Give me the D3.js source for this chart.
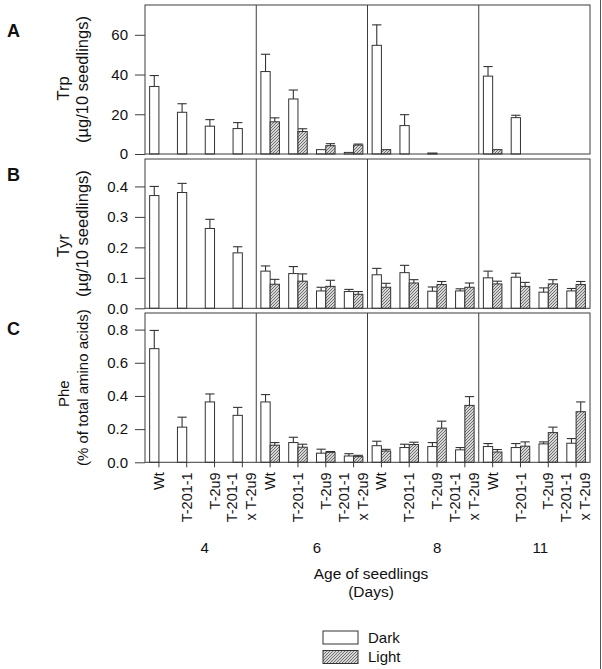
<!DOCTYPE html>
<html>
<head>
<meta charset="utf-8">
<script src="https://cdn.jsdelivr.net/npm/d3@7"></script>
<style>
  html, body { margin: 0; padding: 0; background: #fff; }
  svg { display: block; font-family: "Liberation Sans", Arial, sans-serif; }
</style>
</head>
<body>
<svg id="chart" width="602" height="669"></svg>
<script>
// ---------- DATA ----------
const days = ["4", "6", "8", "11"];
const genotypes = ["Wt", "T-201-1", "T-2u9", "T-201-1 x T-2u9"];
const genotypeLines = [["Wt"], ["T-201-1"], ["T-2u9"], ["T-201-1", "x T-2u9"]];
const seriesNames = ["Dark", "Light"];

// Trp (µg/10 seedlings), rows = days, cols = genotypes
const trpDark     = [[34, 21, 14, 12.8], [41.5, 27.7, 2.2, 0.8], [54.7, 14.3, 0.5, 0], [39.2, 18.3, 0, 0]];
const trpDarkErr  = [[5.5, 4.3, 3.3, 3], [8.7, 4.5, 0, 0], [10.3, 5.5, 0, 0], [4.8, 1.2, 0, 0]];
const trpLight    = [[null, null, null, null], [16.2, 11.3, 4.2, 4.5], [2.2, 0, 0, 0], [2.2, 0, 0, 0]];
const trpLightErr = [[null, null, null, null], [2, 1.4, 1, 0.5], [0, 0, 0, 0], [0, 0, 0, 0]];
const trpTicks = [0, 20, 40, 60];

// Tyr (µg/10 seedlings)
const tyrDark     = [[0.37, 0.38, 0.262, 0.182], [0.122, 0.114, 0.057, 0.055], [0.11, 0.117, 0.056, 0.057], [0.1, 0.102, 0.053, 0.057]];
const tyrDarkErr  = [[0.03, 0.03, 0.03, 0.02], [0.017, 0.023, 0.012, 0.007], [0.021, 0.024, 0.014, 0.007], [0.022, 0.013, 0.014, 0.008]];
const tyrLight    = [[null, null, null, null], [0.079, 0.089, 0.072, 0.046], [0.069, 0.083, 0.078, 0.069], [0.08, 0.072, 0.08, 0.078]];
const tyrLightErr = [[null, null, null, null], [0.016, 0.024, 0.02, 0.009], [0.013, 0.011, 0.01, 0.014], [0.009, 0.013, 0.014, 0.01]];
const tyrTicks = [0, 0.1, 0.2, 0.3, 0.4];

// Phe (% of total amino acids)
const pheDark     = [[0.685, 0.212, 0.364, 0.283], [0.364, 0.119, 0.055, 0.038], [0.1, 0.089, 0.095, 0.075], [0.095, 0.089, 0.111, 0.115]];
const pheDarkErr  = [[0.11, 0.06, 0.048, 0.048], [0.044, 0.032, 0.024, 0.014], [0.027, 0.02, 0.024, 0.014], [0.018, 0.024, 0.012, 0.028]];
const pheLight    = [[null, null, null, null], [0.103, 0.091, 0.06, 0.034], [0.068, 0.107, 0.206, 0.343], [0.062, 0.097, 0.179, 0.305]];
const pheLightErr = [[null, null, null, null], [0.016, 0.018, 0.005, 0.008], [0.01, 0.014, 0.042, 0.053], [0.015, 0.026, 0.033, 0.059]];
const pheTicks = [0, 0.2, 0.4, 0.6, 0.8];

// ---------- LAYOUT ----------
const svg = d3.select("#chart");
const LEFT = 145, RIGHT = 590;
const INK = "#333";
const FRAME = "#3c3c3c";

const panels = [
  { letter: "A", name: "Trp", unit: "(µg/10 seedlings)", dark: trpDark, darkErr: trpDarkErr, light: trpLight, lightErr: trpLightErr,
    ticks: trpTicks, fmt: d3.format("d"), max: 75, top: 5, bottom: 154, titleFs: 16.5, nameDy: 9 },
  { letter: "B", name: "Tyr", unit: "(µg/10 seedlings)", dark: tyrDark, darkErr: tyrDarkErr, light: tyrLight, lightErr: tyrLightErr,
    ticks: tyrTicks, fmt: d3.format(".1f"), max: 0.49, top: 159, bottom: 308.3, titleFs: 16.5, nameDy: 12 },
  { letter: "C", name: "Phe", unit: "(% of total amino acids)", dark: pheDark, darkErr: pheDarkErr, light: pheLight, lightErr: pheLightErr,
    ticks: pheTicks, fmt: d3.format(".1f"), max: 0.9, top: 313, bottom: 462.3, titleFs: 15, nameDy: 6 }
];

// hatch pattern
const defs = svg.append("defs");
const pat = defs.append("pattern").attr("id", "hatch").attr("patternUnits", "userSpaceOnUse")
  .attr("width", 3).attr("height", 3);
pat.append("rect").attr("width", 3).attr("height", 3).attr("fill", "#d6d6d6");
pat.append("path").attr("d", "M-1,1 l2,-2 M0,3 l3,-3 M2,4 l2,-2")
  .attr("stroke", "#444").attr("stroke-width", 0.7);

const keys = days.flatMap(d => genotypes.map(g => d + "|" + g));
const x = d3.scaleBand().domain(keys).range([LEFT, RIGHT]);
const xDay = d3.scaleBand().domain(days).range([LEFT, RIGHT]);
const bw = x.bandwidth();
const barW = bw / 3;

panels.forEach((p, pi) => {
  const y = d3.scaleLinear().domain([0, p.max]).range([p.bottom, p.top]);
  const g = svg.append("g");

  const rows = [];
  days.forEach((d, di) => genotypes.forEach((gt, gi) => {
    rows.push({ key: d + "|" + gt, dark: p.dark[di][gi], darkErr: p.darkErr[di][gi],
                light: p.light[di][gi], lightErr: p.lightErr[di][gi] });
  }));

  // bars
  const series = [
    { vk: "dark", ek: "darkErr", dx: -barW, fill: "#fff" },
    { vk: "light", ek: "lightErr", dx: 0, fill: "url(#hatch)" }
  ];
  series.forEach(s => {
    const data = rows.filter(r => r[s.vk] !== null && r[s.vk] > 0);
    g.selectAll(null).data(data).join("rect")
      .attr("x", r => x(r.key) + bw / 2 + s.dx)
      .attr("y", r => y(r[s.vk]))
      .attr("width", barW)
      .attr("height", r => y(0) - y(r[s.vk]))
      .attr("fill", s.fill)
      .attr("stroke", INK)
      .attr("stroke-width", 1);
    const errs = data.filter(r => r[s.ek] > 0);
    g.selectAll(null).data(errs).join("line")
      .attr("x1", r => x(r.key) + bw / 2 + s.dx + barW / 2)
      .attr("x2", r => x(r.key) + bw / 2 + s.dx + barW / 2)
      .attr("y1", r => y(r[s.vk]))
      .attr("y2", r => y(r[s.vk] + r[s.ek]))
      .attr("stroke", INK).attr("stroke-width", 1.1);
    g.selectAll(null).data(errs).join("line")
      .attr("x1", r => x(r.key) + bw / 2 + s.dx)
      .attr("x2", r => x(r.key) + bw / 2 + s.dx + barW)
      .attr("y1", r => y(r[s.vk] + r[s.ek]))
      .attr("y2", r => y(r[s.vk] + r[s.ek]))
      .attr("stroke", INK).attr("stroke-width", 1.1);
  });

  // frame and day separators
  g.append("rect").attr("x", LEFT).attr("y", p.top)
    .attr("width", RIGHT - LEFT).attr("height", p.bottom - p.top)
    .attr("fill", "none").attr("stroke", FRAME).attr("stroke-width", 1);
  g.selectAll(null).data(days.slice(1)).join("line")
    .attr("x1", d => xDay(d)).attr("x2", d => xDay(d))
    .attr("y1", p.top).attr("y2", p.bottom)
    .attr("stroke", FRAME).attr("stroke-width", 1);

  // y axis
  const ya = g.append("g").attr("transform", `translate(${LEFT},0)`)
    .call(d3.axisLeft(y).tickValues(p.ticks).tickFormat(p.fmt).tickSize(10).tickPadding(7));
  ya.select(".domain").remove();
  ya.selectAll(".tick line").attr("stroke", FRAME);
  ya.selectAll(".tick text").attr("font-size", 15).attr("fill", "#111")
    .attr("font-family", "Liberation Sans, Arial, sans-serif");

  // y titles
  const cy = (p.top + p.bottom) / 2;
  g.append("text").attr("transform", `translate(69,${cy + p.nameDy}) rotate(-90)`)
    .attr("text-anchor", "middle").attr("font-size", p.titleFs).attr("fill", "#111").text(p.name);
  g.append("text").attr("transform", `translate(88,${cy}) rotate(-90)`)
    .attr("text-anchor", "middle").attr("font-size", p.titleFs).attr("fill", "#111").text(p.unit);

  // panel letter
  g.append("text").attr("x", 7).attr("y", p.top + (pi === 0 ? 32 : 22))
    .attr("font-size", 18).attr("font-weight", "bold").attr("fill", "#111").text(p.letter);

  // bottom axis for last panel
  if (pi === panels.length - 1) {
    const xa = g.append("g").attr("transform", `translate(0,${p.bottom})`)
      .call(d3.axisBottom(x).tickSize(5).tickFormat(""));
    xa.select(".domain").remove();
    xa.selectAll(".tick line").attr("stroke", FRAME);
    xa.selectAll(".tick").each(function (k) {
      const gi = genotypes.indexOf(k.split("|")[1]);
      const lines = genotypeLines[gi];
      const offs = lines.length === 1 ? [0] : [-10, 9];
      lines.forEach((ln, li) => {
        d3.select(this).append("text")
          .attr("transform", "rotate(-90)")
          .attr("x", -10).attr("y", offs[li]).attr("dy", "0.35em")
          .attr("text-anchor", "end").attr("font-size", 14.5).attr("fill", "#111")
          .attr("font-family", "Liberation Sans, Arial, sans-serif")
          .text(ln);
      });
    });
    // day labels
    const dayDx = [4, 5, 14, 6];
    g.selectAll(null).data(days).join("text")
      .attr("x", (d, i) => xDay(d) + xDay.bandwidth() / 2 + dayDx[i])
      .attr("y", 553).attr("text-anchor", "middle").attr("font-size", 15).attr("fill", "#111")
      .text(d => d);
  }
});

// x title
svg.append("text").attr("x", 371).attr("y", 579).attr("text-anchor", "middle")
  .attr("font-size", 15.5).attr("fill", "#111").text("Age of seedlings");
svg.append("text").attr("x", 371).attr("y", 597).attr("text-anchor", "middle")
  .attr("font-size", 15.5).attr("fill", "#111").text("(Days)");

// legend
const lg = svg.append("g");
seriesNames.forEach((s, i) => {
  lg.append("rect").attr("x", 323).attr("y", 631 + i * 19.5).attr("width", 35).attr("height", 13)
    .attr("fill", i === 0 ? "#fff" : "url(#hatch)").attr("stroke", INK).attr("stroke-width", 1);
  lg.append("text").attr("x", 368).attr("y", 642.5 + i * 19.5).attr("font-size", 15).attr("fill", "#111").text(s);
});

// right border line of the figure
svg.append("line").attr("x1", 600.5).attr("x2", 600.5).attr("y1", 0).attr("y2", 669)
  .attr("stroke", "#555").attr("stroke-width", 1);
</script>
</body>
</html>
